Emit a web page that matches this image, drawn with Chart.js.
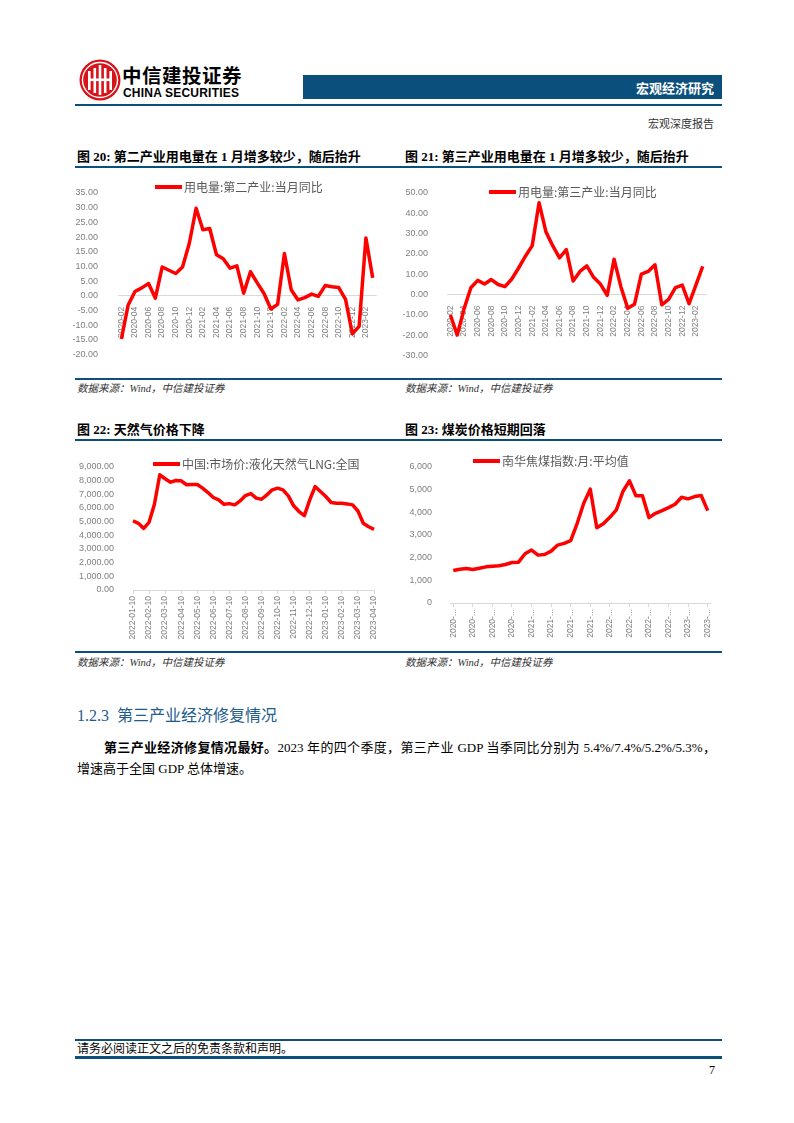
<!DOCTYPE html>
<html lang="zh-CN">
<head>
<meta charset="utf-8">
<title>宏观经济研究</title>
<script src="https://cdn.jsdelivr.net/npm/chart.js@4.4.1/dist/chart.umd.min.js"></script>
<style>
  html, body { margin: 0; padding: 0; background: #fff; }
  body { width: 794px; height: 1123px; position: relative; overflow: hidden;
         font-family: "Liberation Serif", "Noto Sans CJK SC", serif; color: #000; }
  .abs { position: absolute; white-space: nowrap; }
  .rule { position: absolute; left: 75px; width: 647px; background: #0b4f7c; }
  .ftitle { font-size: 13px; font-weight: bold; line-height: 16px; }
  .src { font-size: 10.5px; font-style: italic; color: #333; line-height: 14px; }
  canvas { position: absolute; }
</style>
</head>
<body>

<!-- header -->
<svg class="abs" style="left:79px;top:59px" width="42" height="42" viewBox="0 0 42 42">
  <circle cx="21" cy="21" r="20.5" fill="#d7141a"/>
  <circle cx="21" cy="21" r="17.5" fill="none" stroke="#fff" stroke-width="1.4"/>
  <rect x="9" y="12" width="2.6" height="19" fill="#fff"/>
  <rect x="14.5" y="9" width="2.6" height="25" fill="#fff"/>
  <rect x="19.7" y="6" width="2.6" height="30" fill="#fff"/>
  <rect x="24.9" y="9" width="2.6" height="25" fill="#fff"/>
  <rect x="30.4" y="12" width="2.6" height="19" fill="#fff"/>
  <rect x="9" y="19.5" width="24" height="2.6" fill="#fff"/>
</svg>
<div class="abs" style="left:122px;top:63px;font:bold 19.5px 'Noto Sans CJK SC';line-height:24px;letter-spacing:0.5px">中信建投证券</div>
<div class="abs" style="left:123px;top:86px;font:bold 12px 'Liberation Sans';line-height:14px;letter-spacing:0.2px">CHINA SECURITIES</div>
<div class="abs" style="left:303px;top:75px;width:419px;height:24px;background:#0b4f7c"></div>
<div class="abs" style="right:80px;top:79px;font:bold 13px 'Noto Sans CJK SC';line-height:18px;color:#fff">宏观经济研究</div>
<div class="rule" style="top:104px;height:2px"></div>
<div class="abs" style="right:80px;top:117px;font-size:11px;line-height:15px;color:#333">宏观深度报告</div>

<!-- figure titles, top row -->
<div class="abs ftitle" style="left:77px;top:149px">图 20:&nbsp;第二产业用电量在 1 月增多较少，随后抬升</div>
<div class="abs ftitle" style="left:405px;top:149px">图 21:&nbsp;第三产业用电量在 1 月增多较少，随后抬升</div>
<div class="rule" style="top:166px;height:2px"></div>

<canvas id="c1" width="320" height="200" style="left:70px;top:172px"></canvas>
<canvas id="c2" width="320" height="200" style="left:400px;top:172px"></canvas>

<div class="rule" style="top:378px;height:2px"></div>
<div class="abs src" style="left:77px;top:382px">数据来源：Wind，中信建投证券</div>
<div class="abs src" style="left:405px;top:382px">数据来源：Wind，中信建投证券</div>

<!-- figure titles, second row -->
<div class="abs ftitle" style="left:77px;top:422px">图 22:&nbsp;天然气价格下降</div>
<div class="abs ftitle" style="left:405px;top:422px">图 23:&nbsp;煤炭价格短期回落</div>
<div class="rule" style="top:439px;height:2px"></div>

<canvas id="c3" width="320" height="200" style="left:70px;top:447px"></canvas>
<canvas id="c4" width="320" height="200" style="left:400px;top:447px"></canvas>

<div class="rule" style="top:651px;height:2px"></div>
<div class="abs src" style="left:77px;top:656px">数据来源：Wind，中信建投证券</div>
<div class="abs src" style="left:405px;top:656px">数据来源：Wind，中信建投证券</div>

<!-- section text -->
<div class="abs" style="left:77px;top:705px;font-size:16px;line-height:22px;color:#215c8c">1.2.3&nbsp; 第三产业经济修复情况</div>
<div class="abs" style="left:104px;top:739px;width:612px;font-size:13px;line-height:18px;text-align:justify;text-align-last:justify;white-space:normal"><b>第三产业经济修复情况最好。</b>2023 年的四个季度，第三产业 GDP 当季同比分别为 5.4%/7.4%/5.2%/5.3%，</div>
<div class="abs" style="left:77px;top:760px;font-size:13px;line-height:18px">增速高于全国 GDP 总体增速。</div>

<!-- footer -->
<div class="rule" style="top:1039px;height:2px"></div>
<div class="abs" style="left:77px;top:1041px;font-size:12px;line-height:16px">请务必阅读正文之后的免责条款和声明。</div>
<div class="rule" style="top:1056px;height:3px"></div>
<div class="abs" style="right:79px;top:1062px;font-size:12px;line-height:16px">7</div>

<script>
// 用电量:第二/三产业:当月同比 (%)
const months = ['2020-02','2020-03','2020-04','2020-05','2020-06','2020-07','2020-08','2020-09','2020-10','2020-11','2020-12',
  '2021-01','2021-02','2021-03','2021-04','2021-05','2021-06','2021-07','2021-08','2021-09','2021-10','2021-11','2021-12',
  '2022-01','2022-02','2022-03','2022-04','2022-05','2022-06','2022-07','2022-08','2022-09','2022-10','2022-11','2022-12',
  '2023-01','2023-02','2023-03'];
const secondIndustry = [-14.7, -3.1, 1.5, 2.7, 4.2, -0.8, 9.8, 8.7, 7.6, 9.8, 17.9,
  29.8, 22.5, 22.9, 14.0, 12.6, 9.4, 10.2, 0.9, 8.2, 4.4, 0.8, -4.5,
  -2.9, 14.4, 2.1, -1.4, -0.6, 0.6, -0.2, 3.5, 3.1, 2.8, -1.2, -12.9,
  -10.4, 19.7, 6.1];
const thirdIndustry = [-10.0, -19.9, -7.0, 3.4, 7.0, 5.2, 7.4, 5.0, 3.9, 7.7, 13.1,
  18.9, 24.1, 45.2, 31.0, 24.1, 18.1, 22.1, 6.7, 11.4, 14.1, 8.5, 5.2,
  -0.3, 17.4, 3.9, -6.7, -4.7, 10.1, 11.4, 14.7, -5.0, -2.3, 3.4, 4.7,
  -4.5, 4.7, 13.9];

// 中国:市场价:液化天然气LNG:全国 (元/吨, 每旬)
const lngDates = ['2022-01-10','2022-01-20','2022-01-31','2022-02-10','2022-02-20','2022-02-28',
  '2022-03-10','2022-03-20','2022-03-31','2022-04-10','2022-04-20','2022-04-30',
  '2022-05-10','2022-05-20','2022-05-31','2022-06-10','2022-06-20','2022-06-30',
  '2022-07-10','2022-07-20','2022-07-31','2022-08-10','2022-08-20','2022-08-31',
  '2022-09-10','2022-09-20','2022-09-30','2022-10-10','2022-10-20','2022-10-31',
  '2022-11-10','2022-11-20','2022-11-30','2022-12-10','2022-12-20','2022-12-31',
  '2023-01-10','2023-01-20','2023-01-31','2023-02-10','2023-02-20','2023-02-28',
  '2023-03-10','2023-03-20','2023-03-31','2023-04-10'];
const lngPrice = [5070, 4880, 4510, 4950, 6270, 8430,
  8140, 7890, 8010, 7990, 7700, 7720,
  7720, 7450, 7130, 6770, 6590, 6270,
  6320, 6230, 6520, 6910, 7060, 6720,
  6640, 6960, 7330, 7450, 7330, 6890,
  6160, 5740, 5440, 6590, 7570, 7210,
  6840, 6400, 6350, 6350, 6300, 6230,
  5780, 4880, 4630, 4440];

// 南华焦煤指数:月:平均值
const cokeMonths = ['2020-01','2020-02','2020-03','2020-04','2020-05','2020-06','2020-07','2020-08','2020-09','2020-10','2020-11','2020-12',
  '2021-01','2021-02','2021-03','2021-04','2021-05','2021-06','2021-07','2021-08','2021-09','2021-10','2021-11','2021-12',
  '2022-01','2022-02','2022-03','2022-04','2022-05','2022-06','2022-07','2022-08','2022-09','2022-10','2022-11','2022-12',
  '2023-01','2023-02','2023-03','2023-04'];
const cokeIndex = [1433, 1492, 1521, 1477, 1536, 1595, 1625, 1640, 1699, 1787, 1802, 2171,
  2334, 2112, 2142, 2289, 2555, 2629, 2747, 3515, 4402, 5022, 3323, 3500,
  3781, 4106, 4919, 5391, 4727, 4727, 3767, 3959, 4077, 4210, 4357, 4668,
  4594, 4697, 4742, 4077];

const RED = '#ff0000';
const TICK = '#7f7f7f';

// legend drawn as a short thick line + label, where the report puts it
const lineLegend = {
  id: 'lineLegend',
  afterDraw(chart, args, o) {
    const ds = chart.data.datasets[0];
    const ctx = chart.ctx;
    ctx.save();
    ctx.strokeStyle = ds.borderColor;
    ctx.lineWidth = 4;
    ctx.beginPath();
    ctx.moveTo(o.x, o.y);
    ctx.lineTo(o.x + 27, o.y);
    ctx.stroke();
    ctx.fillStyle = '#595959';
    ctx.font = '12px "Noto Sans CJK SC"';
    ctx.textBaseline = 'middle';
    ctx.fillText(ds.label, o.x + 29, o.y);
    ctx.restore();
  }
};

function lineChart(id, labels, values, name, o) {
  return new Chart(document.getElementById(id), {
    type: 'line',
    data: {
      labels: labels,
      datasets: [{
        label: name,
        data: values,
        borderColor: RED,
        backgroundColor: RED,
        borderWidth: 3.5,
        borderJoinStyle: 'round',
        pointRadius: 0,
        tension: 0,
        fill: false
      }]
    },
    plugins: [lineLegend],
    options: {
      responsive: false,
      animation: false,
      layout: { padding: o.pad },
      plugins: {
        legend: { display: false },
        tooltip: { enabled: false },
        lineLegend: o.legend
      },
      scales: {
        x: {
          position: o.xPos,
          offset: o.offset,
          afterFit(s) { s.height = o.xh; },
          border: { display: true, color: '#d9d9d9', width: 1 },
          grid: {
            display: o.xTicks,
            drawOnChartArea: false,
            tickLength: 4,
            color: c => (c.index % o.every === 0 ? '#d9d9d9' : 'rgba(0,0,0,0)')
          },
          ticks: {
            autoSkip: false,
            minRotation: 90,
            maxRotation: 90,
            padding: o.xPad,
            color: TICK,
            font: { family: 'Liberation Sans', size: 8.5 },
            callback(v, i) {
              return i % o.every === 0 ? o.xFmt(this.getLabelForValue(v)) : '';
            }
          }
        },
        y: {
          min: o.min,
          max: o.max,
          afterFit(s) { s.width = o.yw; },
          border: { display: false },
          grid: { display: false },
          ticks: {
            stepSize: o.step,
            autoSkip: false,
            padding: o.yPad,
            color: TICK,
            font: { family: 'Liberation Sans', size: 9 },
            callback: o.yFmt
          }
        }
      }
    }
  });
}

const asIs = s => s;
const fixed2 = v => v.toFixed(2);

lineChart('c1', months, secondIndustry, '用电量:第二产业:当月同比', {
  pad: { top: 21, right: 7, bottom: 7, left: 0 },
  xPos: { y: 0 }, xh: 0, offset: true, xTicks: false, xPad: 7, every: 2, xFmt: asIs,
  min: -20, max: 35, step: 5, yw: 48, yPad: 12, yFmt: fixed2,
  legend: { x: 85, y: 15 }
});

lineChart('c2', months, thirdIndustry, '用电量:第三产业:当月同比', {
  pad: { top: 21, right: 7, bottom: 8, left: 0 },
  xPos: { y: 0 }, xh: 0, offset: true, xTicks: false, xPad: 7, every: 2, xFmt: asIs,
  min: -30, max: 50, step: 10, yw: 47, yPad: 11, yFmt: fixed2,
  legend: { x: 89, y: 20 }
});

lineChart('c3', lngDates, lngPrice, '中国:市场价:液化天然气LNG:全国', {
  pad: { top: 20, right: 16, bottom: 7, left: 0 },
  xPos: 'bottom', xh: 50, offset: false, xTicks: true, xPad: 2, every: 3, xFmt: asIs,
  min: 0, max: 9000, step: 1000, yw: 63, yPad: 11,
  yFmt: v => v.toLocaleString('en-US', { minimumFractionDigits: 2, maximumFractionDigits: 2 }),
  legend: { x: 83, y: 17 }
});

lineChart('c4', cokeMonths, cokeIndex, '南华焦煤指数:月:平均值', {
  pad: { top: 20, right: 8, bottom: 4, left: 0 },
  xPos: 'bottom', xh: 40, offset: true, xTicks: true, xPad: 2, every: 3,
  xFmt: s => s.slice(0, 5) + '...',
  min: 0, max: 6000, step: 1000, yw: 50, yPad: 10,
  yFmt: v => v.toLocaleString('en-US'),
  legend: { x: 73, y: 14 }
});
</script>
</body>
</html>
